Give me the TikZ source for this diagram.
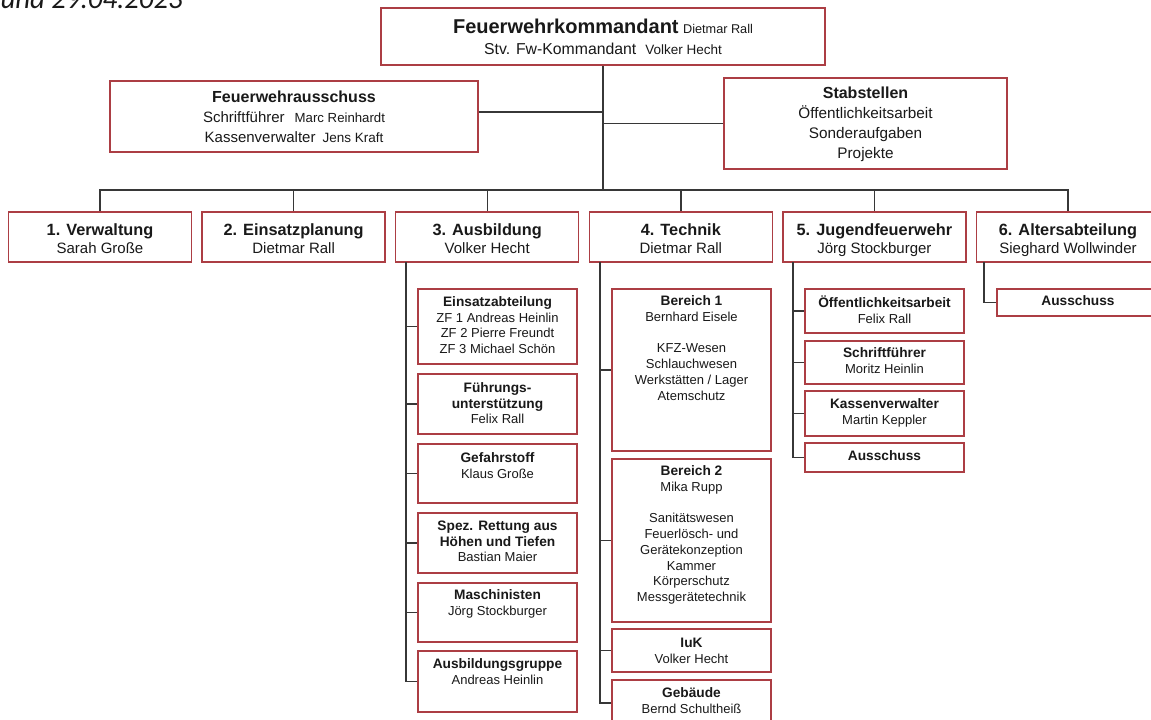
\documentclass[tikz,border=0pt]{standalone}
\usepackage{fontspec}
\setmainfont{Liberation Sans}
\newfontfamily\carl{Carlito}
\usetikzlibrary{calc}
\definecolor{bordc}{RGB}{172,62,68}
\definecolor{linec}{RGB}{55,55,55}
\definecolor{txtc}{RGB}{25,25,25}
\newcommand\myfs[2]{\fontsize{#1}{#2}\selectfont}
\tikzset{
  obox/.style={draw=bordc, line width=1.5pt, fill=white, rectangle, inner sep=0pt},
  txt/.style={inner sep=0pt, align=center, text=txtc},
  conn/.style={draw=linec, line width=1.4pt},
  rowt/.style={font=\myfs{15}{18}},
  cht/.style={font=\myfs{13}{15.8}},
}
% name, x1, y1, x2, y2, first baseline, text style, text
\newcommand\tbox[8]{%
  \node[obox, minimum width={#4pt-#2pt}, minimum height={#5pt-#3pt}] (#1) at ({(#2+#4)/2},{(#3+#5)/2}) {};
  \node[txt, #7, anchor=north] (#1-t) at ({(#2+#4)/2},{#6-20}) {\rule{0pt}{20pt}#8};
}
\newcommand\bt[1]{{\bfseries\myfs{13.7}{15.8}#1}}
\newcommand\rt[1]{{\bfseries\myfs{16.3}{18}#1}}
\begin{document}
\begin{tikzpicture}[x=1pt, y=-1pt]
\useasboundingbox (0,0) rectangle (1151,720);
\clip (0,0) rectangle (1151,720);

% date fragment
\node[font=\carl\itshape\myfs{28.8}{30}, text=txtc, anchor=base east, inner sep=0pt] (date) at (183,9) {und 29.04.2023};

\coordinate (bus) at (603,190);
\coordinate (fa) at (603,112);
\coordinate (c3s) at (406,262);
\coordinate (c4s) at (600,262);
\coordinate (c5s) at (793,262);
\coordinate (c6s) at (984,262);

% top boxes
\tbox{top}{381}{8}{825}{65}{33}{font=\myfs{16}{21}}{{\bfseries\myfs{20}{21}Feuerwehrkommandant} {\myfs{12.7}{21}Dietmar Rall}\\{\myfs{15.8}{21}Stv. Fw-Kommandant}\hspace{9pt}{\myfs{13.5}{21}Volker Hecht}}
\tbox{faus}{110}{81}{478}{152}{102}{font=\myfs{15}{20.3}}{{\bfseries\myfs{16}{20.3}Feuerwehrausschuss}\\Schriftführer\hspace{10pt}{\myfs{13.2}{20.3}Marc Reinhardt}\\Kassenverwalter\hspace{7pt}{\myfs{13.5}{20.3}Jens Kraft}}
\tbox{stab}{724}{78}{1007}{169}{98}{font=\myfs{15.3}{20}}{{\bfseries\myfs{16}{20}Stabstellen}\\Öffentlichkeitsarbeit\\Sonderaufgaben\\Projekte}

% row
\tbox{r1}{8.5}{212}{191.5}{262}{235}{rowt}{\rt{1. Verwaltung}\\Sarah Große}
\tbox{r2}{202}{212}{385.2}{262}{235}{rowt}{\rt{2. Einsatzplanung}\\Dietmar Rall}
\tbox{r3}{395.7}{212}{578.7}{262}{235}{rowt}{\rt{3. Ausbildung}\\Volker Hecht}
\tbox{r4}{589.3}{212}{772.3}{262}{235}{rowt}{\rt{4. Technik}\\Dietmar Rall}
\tbox{r5}{782.9}{212}{965.9}{262}{235}{rowt}{\rt{5. Jugendfeuerwehr}\\Jörg Stockburger}
\tbox{r6}{976.5}{212}{1159.5}{262}{235}{rowt}{\rt{6. Altersabteilung}\\Sieghard Wollwinder}

% column 3
\tbox{c31}{418}{289}{577}{364}{306}{cht}{\bt{Einsatzabteilung}\\ZF 1 Andreas Heinlin\\ZF 2 Pierre Freundt\\ZF 3 Michael Schön}
\tbox{c32}{418}{374}{577}{434}{392}{cht}{\bt{Führungs-}\\\bt{unterstützung}\\Felix Rall}
\tbox{c33}{418}{444}{577}{503}{462}{cht}{\bt{Gefahrstoff}\\Klaus Große}
\tbox{c34}{418}{513}{577}{573}{530}{cht}{\bt{Spez. Rettung aus}\\\bt{Höhen und Tiefen}\\Bastian Maier}
\tbox{c35}{418}{583}{577}{642}{599}{cht}{\bt{Maschinisten}\\Jörg Stockburger}
\tbox{c36}{418}{651}{577}{712}{668}{cht}{\bt{Ausbildungsgruppe}\\Andreas Heinlin}

% column 4
\tbox{c41}{612}{289}{771}{451}{305}{cht}{\bt{Bereich 1}\\Bernhard Eisele\\[15.8pt]KFZ-Wesen\\Schlauchwesen\\Werkstätten / Lager\\Atemschutz}
\tbox{c42}{612}{459}{771}{622}{475}{cht}{\bt{Bereich 2}\\Mika Rupp\\[15.8pt]Sanitätswesen\\Feuerlösch- und\\Gerätekonzeption\\Kammer\\Körperschutz\\Messgerätetechnik}
\tbox{c43}{612}{629}{771}{672}{647}{cht}{\bt{IuK}\\Volker Hecht}
\tbox{c44}{612}{680}{771}{726}{697}{cht}{\bt{Gebäude}\\Bernd Schultheiß}

% column 5
\tbox{c51}{805}{289}{964}{333}{307}{cht}{\bt{Öffentlichkeitsarbeit}\\Felix Rall}
\tbox{c52}{805}{341}{964}{384}{357}{cht}{\bt{Schriftführer}\\Moritz Heinlin}
\tbox{c53}{805}{391}{964}{436}{408}{cht}{\bt{Kassenverwalter}\\Martin Keppler}
\tbox{c54}{805}{443}{964}{472}{460}{cht}{\bt{Ausschuss}}

% column 6
\tbox{c61}{997}{289}{1159}{316}{305}{cht}{\bt{Ausschuss}}

% connectors
\draw[conn] (bus |- top.south) -- (bus);
\foreach \i in {1,...,6} {\draw[conn] (bus) -| (r\i.north);}
\draw[conn] (faus.east |- fa) -- (fa);
\draw[conn] (stab.west) -- (stab.west -| bus);
\foreach \k in {1,...,6} {\draw[conn] (c3s) |- (c3\k.west);}
\foreach \k in {1,...,4} {\draw[conn] (c4s) |- (c4\k.west);}
\foreach \k in {1,...,4} {\draw[conn] (c5s) |- (c5\k.west);}
\draw[conn] (c6s) |- (c61.west);
\end{tikzpicture}
\end{document}
